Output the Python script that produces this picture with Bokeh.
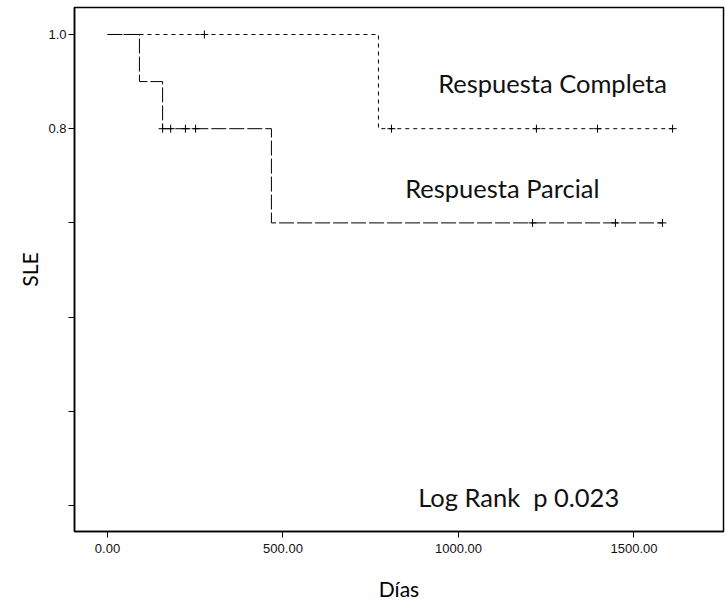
from bokeh.plotting import figure
from bokeh.models import Range1d, FixedTicker, Label
from bokeh.embed import file_html
from bokeh.resources import INLINE

# Kaplan-Meier step data
rc_time = [0, 772, 772, 1610]
rc_surv = [1.0, 1.0, 0.8, 0.8]
rc_cens_t = [276, 809, 1222, 1396, 1610]
rc_cens_s = [1.0, 0.8, 0.8, 0.8, 0.8]

rp_time = [0, 91, 91, 157, 157, 467, 467, 1581]
rp_surv = [1.0, 1.0, 0.9, 0.9, 0.8, 0.8, 0.6, 0.6]
rp_cens_t = [157, 180, 222, 251, 1211, 1447, 1581]
rp_cens_s = [0.8, 0.8, 0.8, 0.8, 0.6, 0.6, 0.6]

x_ticks = [0, 500, 1000, 1500]
y_ticks = [0.0, 0.2, 0.4, 0.6, 0.8, 1.0]
y_labels = {0.0: "", 0.2: "", 0.4: "", 0.6: "", 0.8: "0.8", 1.0: "1.0"}

p = figure(width=725, height=605, output_backend="svg", toolbar_location=None,
           x_range=Range1d(-94, 1755), y_range=Range1d(-0.0552, 1.0573),
           min_border_left=74, min_border_right=2, min_border_top=7, min_border_bottom=74)
p.grid.visible = False
p.outline_line_color = "black"
p.outline_line_width = 1.5
p.background_fill_color = "white"
p.border_fill_color = "white"

for ax in (p.xaxis[0], p.yaxis[0]):
    ax.axis_line_color = "black"
    ax.axis_line_width = 1.5
    ax.major_tick_line_color = "black"
    ax.major_tick_in = 0
    ax.major_tick_out = 6
    ax.minor_tick_line_color = None
    ax.major_label_text_font = "Liberation Sans"
    ax.major_label_text_font_size = "13px"
    ax.major_label_text_color = "#111111"
    ax.axis_label_text_font = "Lato"
    ax.axis_label_text_font_style = "normal"
    ax.axis_label_text_font_size = "21px"
    ax.axis_label_text_color = "black"

p.xaxis.ticker = FixedTicker(ticks=x_ticks)
p.xaxis.major_label_overrides = {t: f"{t:.2f}" for t in x_ticks}
p.xaxis.axis_label = "Días"
p.xaxis.major_label_standoff = 6
p.xaxis.axis_label_standoff = 20

p.yaxis.ticker = FixedTicker(ticks=y_ticks)
p.yaxis.major_label_overrides = y_labels
p.yaxis.axis_label = "SLE"
p.yaxis.major_label_standoff = 2
p.yaxis.axis_label_standoff = 3

p.line(rc_time, rc_surv, line_color="black", line_width=1, line_dash="4 4")
p.line(rp_time, rp_surv, line_color="black", line_width=1, line_dash="15 3")
p.scatter(rc_cens_t, rc_cens_s, marker="cross", size=8, line_color="black", line_width=1)
p.scatter(rp_cens_t, rp_cens_s, marker="cross", size=8, line_color="black", line_width=1)

label_style = dict(text_font="Lato", text_font_size="25.5px", text_color="#111111",
                   text_baseline="middle")
p.add_layout(Label(x=942, y=0.896, text="Respuesta Completa", **label_style))
p.add_layout(Label(x=848, y=0.675, text="Respuesta Parcial", **label_style))
p.add_layout(Label(x=885, y=0.017, text="Log Rank\u00a0\u00a0p 0.023", **label_style))

open("out.html", "w").write(file_html(p, INLINE))
